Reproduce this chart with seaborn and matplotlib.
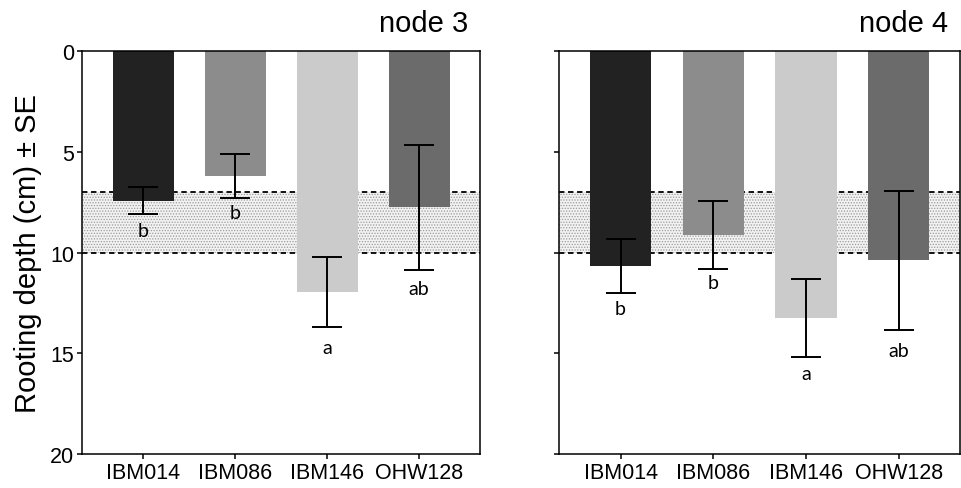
import matplotlib
matplotlib.use("Agg")
import matplotlib.pyplot as plt
import seaborn as sns
import pandas as pd

genotypes = ["IBM014", "IBM086", "IBM146", "OHW128"]
node3_mean = [7.43, 6.21, 11.95, 7.76]
node3_se = [0.67, 1.10, 1.73, 3.11]
node4_mean = [10.67, 9.14, 13.25, 10.39]
node4_se = [1.33, 1.68, 1.93, 3.43]
node3_letters = ["b", "b", "a", "ab"]
node4_letters = ["b", "b", "a", "ab"]
node3_letter_y = [8.9, 8.0, 14.7, 11.8]
node4_letter_y = [12.8, 11.5, 16.0, 14.85]
panel_titles = ["node 3", "node 4"]
band_low, band_high = 7, 10
bar_colors = ["#222222", "#8c8c8c", "#cbcbcb", "#6b6b6b"]

sns.set_style("ticks")
plt.rcParams["font.family"] = ["Liberation Sans", "DejaVu Sans"]
plt.rcParams["hatch.linewidth"] = 0.6
plt.rcParams["hatch.color"] = "#9a9a9a"
for k in ("text.color", "axes.labelcolor", "xtick.color", "ytick.color", "axes.edgecolor"):
    plt.rcParams[k] = "black"

fig = plt.figure(figsize=(9.62, 4.89), dpi=100)
ax1 = fig.add_axes([0.0852, 0.0695, 0.4137, 0.824])
ax2 = fig.add_axes([0.581, 0.0695, 0.417, 0.824])

panels = [
    (ax1, node3_mean, node3_se, node3_letters, node3_letter_y, panel_titles[0]),
    (ax2, node4_mean, node4_se, node4_letters, node4_letter_y, panel_titles[1]),
]

for i, (ax, means, ses, letters, ly, title) in enumerate(panels):
    df = pd.DataFrame({"genotype": genotypes, "depth": means})
    ax.axhspan(band_low, band_high, facecolor="#f2f2f2", hatch="......",
               edgecolor="#9a9a9a", linewidth=0, zorder=0)
    for yv in (band_low, band_high):
        ax.axhline(yv, color="black", linestyle=(0, (3, 2)), linewidth=1.3, zorder=0.5)
    sns.barplot(data=df, x="genotype", y="depth", hue="genotype",
                palette=bar_colors, order=genotypes, hue_order=genotypes,
                errorbar=None, width=0.66, saturation=1, legend=False,
                linewidth=0, edgecolor="none", ax=ax, zorder=2)
    ax.errorbar(range(len(genotypes)), means, yerr=ses, fmt="none",
                ecolor="black", elinewidth=1.4, capsize=11, capthick=1.4, zorder=3)
    for j, (lt, yy) in enumerate(zip(letters, ly)):
        ax.text(j, yy, lt, ha="center", va="center", fontsize=14,
                family=["Lato", "DejaVu Sans"], zorder=4)
    ax.set_ylim(20, 0)
    ax.set_xlim(-0.665, 3.66)
    ax.set_yticks([0, 5, 10, 15, 20])
    ax.set_xlabel("")
    ax.set_ylabel("")
    ax.tick_params(axis="both", labelsize=15.5, length=3.5, width=1.1,
                   direction="out", colors="black", pad=2)
    for sp in ax.spines.values():
        sp.set_visible(True)
        sp.set_linewidth(1.1)
        sp.set_color("black")
    ax.text(0.97, 1.05, title, transform=ax.transAxes, ha="right",
            va="baseline", fontsize=21)

ax1.set_ylabel("Rooting depth (cm) \u00b1 SE", fontsize=21, labelpad=6)
ax2.set_yticklabels([])

fig.savefig("out.png", dpi=100)
